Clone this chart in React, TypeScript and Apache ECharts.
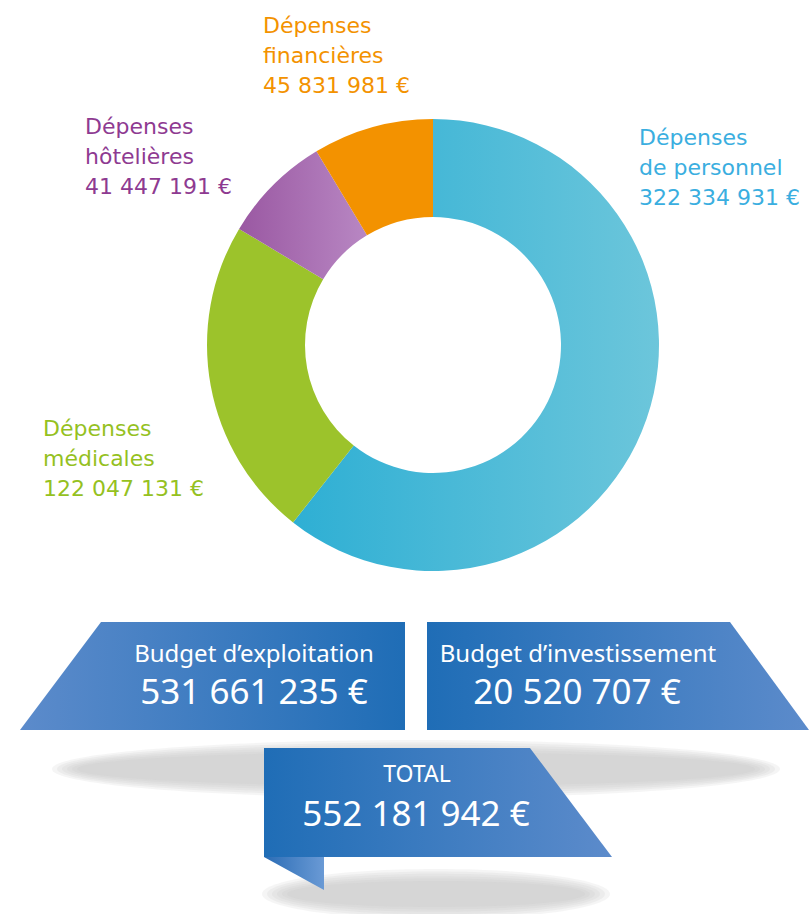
import React, { useEffect, useRef } from "react";
import * as echarts from "echarts";

const categories = ["Dépenses de personnel", "Dépenses médicales", "Dépenses hôtelières", "Dépenses financières"];
const labelLines = [
  ["Dépenses", "de personnel"],
  ["Dépenses", "médicales"],
  ["Dépenses", "hôtelières"],
  ["Dépenses", "financières"],
];
const values = [322334931, 122047131, 41447191, 45831981];
const budgetLabels = ["Budget d’exploitation", "Budget d’investissement", "TOTAL"];
const budgetValues = [531661235, 20520707, 552181942];

const sliceColors = [
  ["#2eafd4", "#6cc6db"],
  ["#9cc32b", "#9cc32b"],
  ["#9a58a2", "#b887c3"],
  ["#f39200", "#f39200"],
];
const textColors = ["#3aaee0", "#95c11f", "#8e3a91", "#f39200"];
const labelPos = [
  [639, 122],
  [43, 413],
  [85, 111],
  [263, 10],
];

const fmt = (n: number) => n.toString().replace(/\B(?=(\d{3})+(?!\d))/g, " ") + " €";

const lg = (a: string, b: string) =>
  new echarts.graphic.LinearGradient(0, 0, 1, 0, [
    { offset: 0, color: a },
    { offset: 1, color: b },
  ]);

const DARK = "#1f6db6";
const LIGHT = "#5c8bcb";

export default function App() {
  const ref = useRef<HTMLDivElement>(null);
  useEffect(() => {
    if (!ref.current) return;
    const chart = echarts.init(ref.current, undefined, { renderer: "svg" });

    const shadow = (cx: number, cy: number, rx: number, ry: number) => {
      const layers: any[] = [];
      for (let k = 0; k < 6; k++) {
        layers.push({
          type: "ellipse",
          silent: true,
          shape: { cx, cy, rx: rx - k * 5, ry: ry - k * 2.4 },
          style: { fill: "rgba(192,193,195,0.16)" },
        });
      }
      return layers;
    };

    const labelTexts = categories.map((c, i) => ({
      type: "text",
      x: labelPos[i][0],
      y: labelPos[i][1],
      silent: true,
      style: {
        text: [...labelLines[i], fmt(values[i])].join("\n"),
        fill: textColors[i],
        font: '22px "DejaVu Sans"',
        lineHeight: 30,
        textAlign: "left",
        textVerticalAlign: "top",
      },
    }));

    const bText = (txt: string, x: number, y: number, size: number) => ({
      type: "text",
      x,
      y,
      silent: true,
      style: {
        text: txt,
        fill: "#ffffff",
        font: `${size}px "Noto Sans"`,
        textAlign: "center",
        textVerticalAlign: "middle",
      },
    });

    chart.setOption({
      animation: false,
      series: [
        {
          type: "pie",
          center: [433, 345],
          radius: [128, 226],
          startAngle: 90,
          clockwise: true,
          silent: true,
          label: { show: false },
          labelLine: { show: false },
          emphasis: { disabled: true },
          itemStyle: { borderWidth: 0 },
          data: categories.map((c, i) => ({
            name: c,
            value: values[i],
            itemStyle: { color: lg(sliceColors[i][0], sliceColors[i][1]) },
          })),
        },
      ],
      graphic: [
        ...shadow(416, 769, 364, 29),
        ...shadow(436, 894, 174, 25),
        {
          type: "polygon",
          silent: true,
          shape: { points: [[101, 622], [405, 622], [405, 730], [20, 730]] },
          style: { fill: lg(LIGHT, DARK) },
        },
        {
          type: "polygon",
          silent: true,
          shape: { points: [[427, 622], [730, 622], [809, 730], [427, 730]] },
          style: { fill: lg(DARK, LIGHT) },
        },
        {
          type: "polygon",
          silent: true,
          shape: { points: [[264, 857], [324, 857], [324, 890]] },
          style: { fill: lg("#2a6cb5", "#6a9ad5") },
        },
        {
          type: "polygon",
          silent: true,
          shape: { points: [[264, 748], [530, 748], [612, 857], [264, 857]] },
          style: { fill: lg(DARK, LIGHT) },
        },
        bText(budgetLabels[0], 254, 652, 24),
        bText(fmt(budgetValues[0]), 254, 690, 35),
        bText(budgetLabels[1], 578, 652, 24),
        bText(fmt(budgetValues[1]), 577, 690, 35),
        bText(budgetLabels[2], 417, 773, 23),
        bText(fmt(budgetValues[2]), 416, 812, 35),
        ...labelTexts,
      ],
    });
    return () => chart.dispose();
  }, []);
  return (
    <div
      ref={ref}
      style={{ position: "absolute", left: 0, top: 0, width: 809, height: 914, background: "#ffffff" }}
    />
  );
}
